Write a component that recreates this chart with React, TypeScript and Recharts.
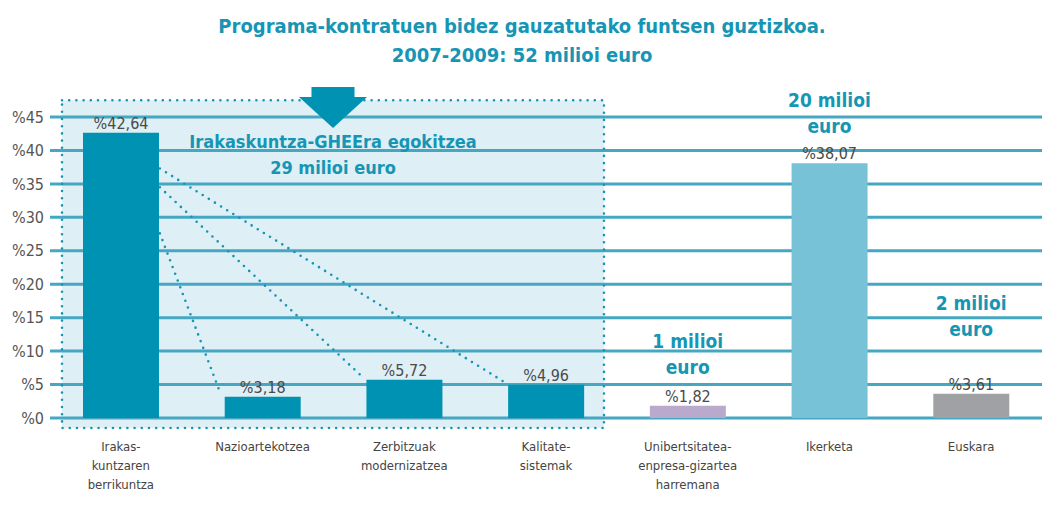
import React from 'react';
import { BarChart, Bar, XAxis, YAxis, CartesianGrid, Cell, LabelList } from 'recharts';

// ---- data ----
const categories = [
  'Irakas-\nkuntzaren\nberrikuntza',
  'Nazioartekotzea',
  'Zerbitzuak\nmodernizatzea',
  'Kalitate-\nsistemak',
  'Unibertsitatea-\nenpresa-gizartea\nharremana',
  'Ikerketa',
  'Euskara',
];
const shares = [42.64, 3.18, 5.72, 4.96, 1.82, 38.07, 3.61];
const barColors = ['#0092b3', '#0092b3', '#0092b3', '#0092b3', '#b9aacd', '#78c2d7', '#a0a1a5'];
const yTicks = [0, 5, 10, 15, 20, 25, 30, 35, 40, 45];
const titleLines = ['Programa-kontratuen bidez gauzatutako funtsen guztizkoa.', '2007-2009: 52 milioi euro'];
const groupLabel = ['Irakaskuntza-GHEEra egokitzea', '29 milioi euro'];
const amountNotes = [
  { index: 4, lines: ['1 milioi', 'euro'] },
  { index: 5, lines: ['20 milioi', 'euro'] },
  { index: 6, lines: ['2 milioi', 'euro'] },
];

const data = categories.map((name, i) => ({ name, value: shares[i] }));

// ---- layout ----
const W = 1044;
const H = 513;
const M = { top: 117, right: 2, bottom: 0, left: 0 };
const Y_AXIS_W = 50;
const X_AXIS_H = 95;
const BAR_SIZE = 76;
const plotLeft = M.left + Y_AXIS_W;
const plotRight = W - M.right;
const plotTop = M.top;
const plotBottom = H - M.bottom - X_AXIS_H;
const band = (plotRight - plotLeft) / categories.length;
const yMax = 45;
const yPx = (v: number) => plotBottom - (v / yMax) * (plotBottom - plotTop);
const bandCenter = (i: number) => plotLeft + band * (i + 0.5);
const barLeft = (i: number) => bandCenter(i) - BAR_SIZE / 2;
const barRight = (i: number) => bandCenter(i) + BAR_SIZE / 2;
// baseline (px) of the first line of each amount note
const noteBaseline: Record<number, number> = { 4: 348, 5: 107, 6: 310 };

const FONT = "'Liberation Sans Narrow', 'DejaVu Sans Condensed', 'Roboto Condensed', Roboto, sans-serif";
const TEAL = '#1695b5';
const GRID = '#45a7c1';

const fmt = (v: any) => '%' + Number(v).toFixed(2).replace('.', ',');

const CatTick = (props: any) => {
  const { x, y, payload } = props;
  const lines = String(payload.value).split('\n');
  return (
    <text x={x} y={y + 33} textAnchor="middle" fill="#444" fontSize={13} fontFamily={FONT}>
      {lines.map((l, k) => (
        <tspan key={k} x={x} dy={k === 0 ? 0 : 19}>
          {l}
        </tspan>
      ))}
    </text>
  );
};

export default function App() {
  const boxL = plotLeft + 12;
  const boxR = barRight(3) + 20;
  const boxT = yPx(47.5);
  const boxB = yPx(-1.5);
  const arrowCx = (boxL + boxR) / 2;
  const dotted = { stroke: TEAL, strokeWidth: 2.6, strokeDasharray: '0 7.2', strokeLinecap: 'round' as const, fill: 'none' };
  const diag = [
    { from: 37.3, to: 3 },
    { from: 34.5, to: 2 },
    { from: 27.6, to: 1 },
  ];
  return (
    <div style={{ position: 'absolute', left: 0, top: 0, width: W, height: H, background: '#fff', overflow: 'hidden' }}>
      <svg width={W} height={H} style={{ position: 'absolute', left: 0, top: 0 }}>
        <rect x={boxL} y={boxT} width={boxR - boxL} height={boxB - boxT} fill="#deeff5" />
      </svg>
      <div style={{ position: 'absolute', left: 0, top: 0 }}>
        <BarChart width={W} height={H} data={data} margin={M}>
          <CartesianGrid vertical={false} stroke={GRID} strokeWidth={3} />
          <XAxis
            dataKey="name"
            axisLine={false}
            tickLine={false}
            tickSize={0}
            tickMargin={0}
            height={X_AXIS_H}
            interval={0}
            tick={<CatTick />}
          />
          <YAxis
            domain={[0, yMax]}
            ticks={yTicks}
            width={Y_AXIS_W}
            axisLine={false}
            tickLine={false}
            tickSize={0}
            tickMargin={6}
            tickFormatter={(v: number) => '%' + v}
            tick={{ fill: '#555', fontSize: 16, fontFamily: FONT }}
          />
          <Bar dataKey="value" barSize={BAR_SIZE} isAnimationActive={false}>
            {data.map((d, i) => (
              <Cell key={i} fill={barColors[i]} />
            ))}
            <LabelList
              dataKey="value"
              position="top"
              offset={4}
              formatter={fmt}
              style={{ fill: '#4a4a4a', fontSize: 16, fontFamily: FONT }}
            />
          </Bar>
        </BarChart>
      </div>
      <svg width={W} height={H} style={{ position: 'absolute', left: 0, top: 0, pointerEvents: 'none' }}>
        {/* dotted box border */}
        <rect x={boxL} y={boxT} width={boxR - boxL} height={boxB - boxT} {...dotted} />
        {/* diagonal dotted connectors */}
        {diag.map((d, k) => (
          <line
            key={k}
            x1={barRight(0) + 1}
            y1={yPx(d.from)}
            x2={barLeft(d.to) - 4}
            y2={yPx(shares[d.to]) - 3}
            {...dotted}
          />
        ))}
        {/* arrow */}
        <rect x={arrowCx - 21.5} y={87} width={43} height={10} fill="#0092b3" />
        <polygon points={`${arrowCx - 34},97 ${arrowCx + 34},97 ${arrowCx},128`} fill="#0092b3" />
        {/* group label */}
        <text x={arrowCx} y={148} textAnchor="middle" fill={TEAL} fontSize={18} fontWeight="bold" fontFamily={FONT}>
          {groupLabel[0]}
        </text>
        <text x={arrowCx} y={174} textAnchor="middle" fill={TEAL} fontSize={18} fontWeight="bold" fontFamily={FONT}>
          {groupLabel[1]}
        </text>
        {/* amount notes */}
        {amountNotes.map((n) => {
          const b = noteBaseline[n.index];
          return (
            <text key={n.index} x={bandCenter(n.index)} textAnchor="middle" fill={TEAL} fontSize={19} fontWeight="bold" fontFamily={FONT}>
              <tspan x={bandCenter(n.index)} y={b}>{n.lines[0]}</tspan>
              <tspan x={bandCenter(n.index)} y={b + 26}>{n.lines[1]}</tspan>
            </text>
          );
        })}
        {/* title */}
        <text x={W / 2} y={33} textAnchor="middle" fill={TEAL} fontSize={20} fontWeight="bold" fontFamily={FONT}>
          {titleLines[0]}
        </text>
        <text x={W / 2} y={62} textAnchor="middle" fill={TEAL} fontSize={20} fontWeight="bold" fontFamily={FONT}>
          {titleLines[1]}
        </text>
      </svg>
    </div>
  );
}
